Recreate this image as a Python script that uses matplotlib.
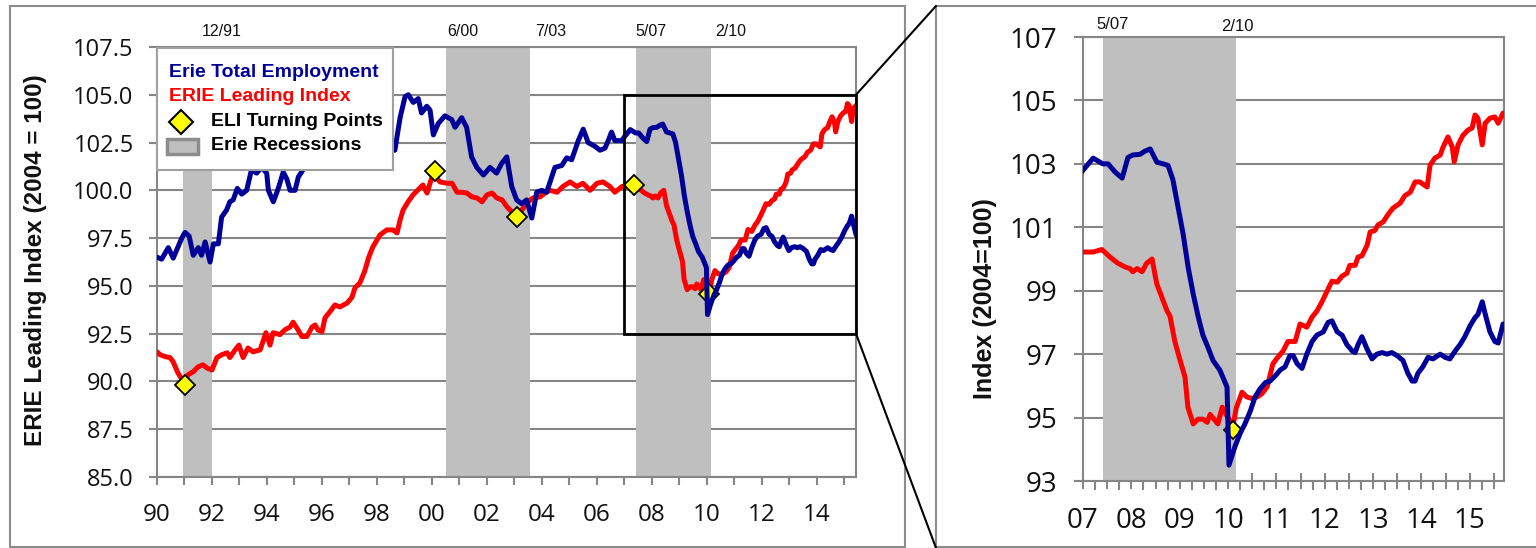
import matplotlib
matplotlib.use('Agg')
import matplotlib.pyplot as plt
from matplotlib.patches import Rectangle, ConnectionPatch
from matplotlib.ticker import MultipleLocator, FuncFormatter, FixedLocator

plt.rcParams['font.family'] = ['Liberation Sans', 'DejaVu Sans']

# ---------------- data ----------------
emp_years = [1990.00, 1990.17, 1990.41, 1990.59, 1990.90, 1991.02, 1991.17, 1991.32, 1991.50, 1991.62,
             1991.75, 1991.93, 1992.05, 1992.23, 1992.35, 1992.53, 1992.65, 1992.77, 1992.92, 1993.08,
             1993.26, 1993.44, 1993.62, 1993.81, 1993.99, 1994.05, 1994.23, 1994.41, 1994.59, 1994.72,
             1994.84, 1995.02, 1995.14, 1995.32, 1995.60, 1998.65, 1998.84, 1999.02, 1999.14, 1999.32,
             1999.50, 1999.62, 1999.81, 1999.93, 2000.05, 2000.23, 2000.47, 2000.72, 2000.84, 2001.08,
             2001.26, 2001.44, 2001.63, 2001.87, 2002.11, 2002.35, 2002.53, 2002.72, 2002.90, 2003.08,
             2003.26, 2003.44, 2003.63, 2003.81, 2003.99, 2004.17, 2004.47, 2004.72, 2004.90, 2005.08,
             2005.32, 2005.50, 2005.68, 2005.93, 2006.11, 2006.29, 2006.41, 2006.53, 2006.65, 2006.90,
             2007.00, 2007.21, 2007.41, 2007.52, 2007.66, 2007.81, 2007.93, 2008.03, 2008.18, 2008.28,
             2008.39, 2008.53, 2008.66, 2008.76, 2008.86, 2008.97, 2009.07, 2009.18, 2009.28, 2009.38,
             2009.48, 2009.59, 2009.69, 2009.83, 2009.94, 2009.98, 2010.02, 2010.14, 2010.25, 2010.35,
             2010.46, 2010.56, 2010.66, 2010.77, 2010.87, 2010.97, 2011.08, 2011.18, 2011.28, 2011.35,
             2011.43, 2011.53, 2011.63, 2011.74, 2011.84, 2011.97, 2012.07, 2012.15, 2012.26, 2012.36,
             2012.46, 2012.57, 2012.63, 2012.69, 2012.77, 2012.88, 2012.98, 2013.08, 2013.19, 2013.29,
             2013.39, 2013.50, 2013.62, 2013.72, 2013.81, 2013.87, 2013.93, 2014.03, 2014.14, 2014.24,
             2014.39, 2014.49, 2014.59, 2014.70, 2014.80, 2014.90, 2015.01, 2015.11, 2015.17, 2015.26,
             2015.32, 2015.42, 2015.52, 2015.59, 2015.69]
emp_values = [96.5, 96.4, 97.0, 96.45, 97.5, 97.8, 97.6, 96.6, 97.0, 96.6,
              97.3, 96.25, 97.2, 97.2, 98.6, 98.97, 99.4, 99.5, 100.1, 99.8,
              100.0, 101.1, 100.9, 101.2, 100.9, 100.0, 99.4, 100.1, 100.95, 100.6,
              100.0, 100.0, 100.7, 101.1, 101.8, 102.1, 103.8, 104.9, 105.0, 104.6,
              104.8, 104.05, 104.4, 104.2, 102.9, 103.5, 103.9, 103.7, 103.3, 103.8,
              103.3, 101.75, 101.2, 100.8, 101.2, 100.9, 101.4, 101.75, 100.2, 99.5,
              99.3, 99.5, 98.55, 99.9, 100.0, 99.9, 101.2, 101.3, 101.7, 101.6,
              102.6, 103.2, 102.5, 102.3, 102.1, 102.2, 102.6, 103.05, 102.6, 102.6,
              102.8, 103.18, 103.0, 103.0, 102.75, 102.55, 103.2, 103.28, 103.3, 103.4,
              103.47, 103.05, 103.0, 102.95, 102.5, 101.6, 100.8, 99.7, 98.9, 98.2,
              97.6, 97.2, 96.8, 96.5, 96.1, 95.96, 93.5, 94.07, 94.5, 94.8,
              95.2, 95.65, 95.9, 96.1, 96.15, 96.3, 96.5, 96.6, 96.95, 96.95,
              96.7, 96.55, 97.0, 97.4, 97.6, 97.7, 98.0, 98.05, 97.7, 97.6,
              97.3, 97.1, 97.05, 97.3, 97.55, 97.15, 96.85, 97.0, 97.05, 97.0,
              97.05, 96.95, 96.8, 96.4, 96.15, 96.15, 96.4, 96.6, 96.9, 96.85,
              97.0, 96.9, 96.85, 97.1, 97.3, 97.55, 97.9, 98.15, 98.25, 98.65,
              98.27, 97.7, 97.4, 97.35, 97.95]

eli_years = [1990.00, 1990.11, 1990.29, 1990.47, 1990.58, 1990.76, 1990.91, 1991.00, 1991.13, 1991.31,
             1991.49, 1991.67, 1991.82, 1992.00, 1992.18, 1992.36, 1992.55, 1992.65, 1992.84, 1992.98,
             1993.13, 1993.31, 1993.49, 1993.75, 1993.85, 1993.96, 1994.11, 1994.22, 1994.47, 1994.65,
             1994.84, 1994.95, 1995.13, 1995.27, 1995.45, 1995.64, 1995.75, 1995.85, 1996.00, 1996.11,
             1996.29, 1996.47, 1996.65, 1996.91, 1997.09, 1997.20, 1997.38, 1997.56, 1997.70, 1997.85,
             1998.11, 1998.36, 1998.58, 1998.73, 1998.84, 1998.95, 1999.13, 1999.31, 1999.49, 1999.67,
             1999.82, 2000.00, 2000.10, 2000.20, 2000.29, 2000.55, 2000.73, 2000.91, 2001.09, 2001.27,
             2001.45, 2001.64, 2001.82, 2002.00, 2002.18, 2002.36, 2002.55, 2002.73, 2002.91, 2003.09,
             2003.27, 2003.45, 2003.67, 2003.93, 2004.11, 2004.29, 2004.55, 2004.76, 2005.02, 2005.27,
             2005.49, 2005.75, 2006.00, 2006.22, 2006.47, 2006.65, 2006.91,
             2007.00, 2007.21, 2007.39, 2007.56, 2007.72, 2007.87, 2007.97, 2008.03, 2008.12, 2008.22,
             2008.32, 2008.43, 2008.49, 2008.53, 2008.63, 2008.74, 2008.80, 2008.90, 2009.01, 2009.11,
             2009.17, 2009.28, 2009.38, 2009.48, 2009.57, 2009.63, 2009.71, 2009.79, 2009.88, 2009.96,
             2010.04, 2010.10, 2010.17, 2010.29, 2010.39, 2010.50, 2010.60, 2010.70, 2010.81, 2010.93,
             2011.03, 2011.14, 2011.24, 2011.39, 2011.49, 2011.63, 2011.74, 2011.84, 2011.95, 2012.05,
             2012.15, 2012.26, 2012.36, 2012.46, 2012.52, 2012.63, 2012.69, 2012.77, 2012.88, 2012.94,
             2013.04, 2013.10, 2013.21, 2013.31, 2013.41, 2013.56, 2013.66, 2013.77, 2013.87, 2013.97,
             2014.12, 2014.18, 2014.28, 2014.39, 2014.45, 2014.55, 2014.64, 2014.68, 2014.76, 2014.86,
             2014.97, 2015.05, 2015.11, 2015.17, 2015.26, 2015.32, 2015.42, 2015.52, 2015.59, 2015.69]
eli_values = [91.55, 91.4, 91.3, 91.25, 91.05, 90.45, 90.1, 90.0, 90.35, 90.5,
              90.76, 90.87, 90.7, 90.6, 91.25, 91.4, 91.5, 91.25, 91.65, 91.9,
              91.25, 91.75, 91.55, 91.65, 92.07, 92.55, 91.9, 92.55, 92.45, 92.7,
              92.85, 93.1, 92.7, 92.35, 92.35, 92.85, 92.96, 92.7, 92.6, 93.33,
              93.65, 94.0, 93.9, 94.1, 94.4, 94.9, 95.16, 95.8, 96.5, 97.04,
              97.67, 97.93, 97.93, 97.77, 98.45, 98.97, 99.4, 99.76, 100.02, 100.28,
              99.86, 100.7, 101.0, 100.6, 100.44, 100.37, 100.37, 99.9, 99.9, 99.86,
              99.66, 99.6, 99.4, 99.76, 99.86, 99.6, 99.5, 99.13, 98.87, 98.6,
              98.97, 99.34, 99.6, 99.66, 99.86, 100.0, 99.9, 100.2, 100.44, 100.2,
              100.37, 100.0, 100.37, 100.44, 100.2, 99.9, 100.2,
              100.22, 100.22, 100.3, 100.06, 99.87, 99.75, 99.7, 99.6, 99.7, 99.6,
              99.87, 100.0, 99.5, 99.2, 98.8, 98.36, 98.2, 97.4, 96.8, 96.28,
              95.33, 94.8, 94.95, 94.95, 94.85, 95.1, 94.95, 94.8, 95.33, 95.1,
              94.9, 94.7, 95.3, 95.8, 95.65, 95.6, 95.65, 95.75, 95.97, 96.7,
              96.9, 97.1, 97.4, 97.4, 97.95, 97.85, 98.17, 98.36, 98.67, 98.99,
              99.3, 99.27, 99.46, 99.55, 99.8, 99.8, 100.06, 100.1, 100.44, 100.85,
              100.9, 101.07, 101.17, 101.4, 101.6, 101.76, 102.0, 102.1, 102.43, 102.43,
              102.27, 102.96, 103.18, 103.28, 103.53, 103.85, 103.53, 103.06, 103.6, 103.9,
              104.07, 104.13, 104.54, 104.44, 103.6, 104.28, 104.44, 104.48, 104.28, 104.6]

tp_years = [1991.02, 2000.10, 2003.10, 2007.35, 2010.07]
tp_values = [89.8, 101.0, 98.6, 100.3, 94.6]
zoom_tp_years = [2010.10]
zoom_tp_values = [94.6]

rec_start = [1990.95, 2000.50, 2007.42]
rec_end = [1992.00, 2003.55, 2010.16]
rec_labels_main = ['12/91', '6/00', '7/03', '5/07', '2/10']
rec_labels_zoom = ['5/07', '2/10']

main_yticks = [85.0, 87.5, 90.0, 92.5, 95.0, 97.5, 100.0, 102.5, 105.0, 107.5]
zoom_yticks = [93, 95, 97, 99, 101, 103, 105, 107]

series_names = ['Erie Total Employment', 'ERIE Leading Index', 'ELI Turning Points', 'Erie Recessions']
main_ylabel = 'ERIE Leading Index (2004 = 100)'
zoom_ylabel = 'Index (2004=100)'

# ---------------- layout / style ----------------
W, H = 1536, 548
BLUE = '#000099'
RED = '#ff0000'
GRID = '#868686'
BAND = '#bfbfbf'
TICKFONT = 'Open Sans'

fig = plt.figure(figsize=(W / 100, H / 100), dpi=100)


def px_axes(l, t, r, b):
    return fig.add_axes([l / W, 1 - b / H, (r - l) / W, (b - t) / H])


ax1 = px_axes(157, 47, 856, 477)
ax2 = px_axes(1083, 37, 1504, 481)

for ax in (ax1, ax2):
    ax.set_axisbelow(True)
    ax.grid(axis='y', color=GRID, lw=1.5)
    for s in ax.spines.values():
        s.set_color(GRID)
        s.set_linewidth(1.5)
    for a, b in zip(rec_start, rec_end):
        ax.axvspan(a, b, color=BAND, lw=0, zorder=1)
    ax.plot(eli_years, eli_values, color=RED, lw=3.6, solid_joinstyle='round',
            solid_capstyle='round', zorder=3)

# ---- main panel ----
ax1.plot(tp_years, tp_values, ls='none', marker='D', ms=10, mfc='#ffff00', mec='black',
         mew=1.3, zorder=4)
ax1.plot(emp_years, emp_values, color=BLUE, lw=3.6, solid_joinstyle='round',
         solid_capstyle='round', zorder=5)
ax1.set_xlim(1990.0, 2015.42)
ax1.set_ylim(85.0, 107.5)
ax1.yaxis.set_major_locator(FixedLocator(main_yticks))
ax1.yaxis.set_major_formatter(FuncFormatter(lambda v, p: f"{v:.1f}"))
ax1.xaxis.set_major_locator(MultipleLocator(1))
ax1.xaxis.set_major_formatter(FuncFormatter(
    lambda v, p: f"{int(round(v)) % 100:02d}" if int(round(v)) % 2 == 0 else ''))
ax1.tick_params(axis='y', length=5.8, width=1.5, color=GRID, pad=11, labelsize=17,
                labelcolor='#111111', labelfontfamily=TICKFONT)
ax1.tick_params(axis='x', length=5.8, width=1.5, color=GRID, pad=13, labelsize=17.5,
                labelcolor='#111111', labelfontfamily=TICKFONT)
ax1.set_ylabel(main_ylabel, fontsize=17.5, fontweight='bold', color='#111111')
ax1.yaxis.set_label_coords(-0.157, 0.505)

main_label_x = [1992.36, 2001.13, 2004.31, 2007.96, 2010.87]
for lx, lab in zip(main_label_x, rec_labels_main):
    ax1.text(lx, 1.037, lab, transform=ax1.get_xaxis_transform(), ha='center', va='center',
             fontsize=11.5, color='#111111', clip_on=False)

# legend (drawn manually, Excel style)
ax1.add_patch(Rectangle((0.0, 0.714), 0.338, 0.284, transform=ax1.transAxes, fc='white',
                        ec='#a0a0a0', lw=1.5, zorder=10, clip_on=False))
ax1.text(0.017, 0.94, series_names[0], transform=ax1.transAxes, color=BLUE, fontsize=14,
         fontweight='bold', va='center', ha='left', zorder=11)
ax1.text(0.017, 0.884, series_names[1], transform=ax1.transAxes, color=RED, fontsize=14,
         fontweight='bold', va='center', ha='left', zorder=11)
ax1.plot([0.034], [0.826], transform=ax1.transAxes, ls='none', marker='D', ms=12,
         mfc='#ffff00', mec='black', mew=1.5, zorder=12, clip_on=False)
ax1.text(0.077, 0.826, series_names[2], transform=ax1.transAxes, color='black', fontsize=14,
         fontweight='bold', va='center', ha='left', zorder=11)
ax1.add_patch(Rectangle((0.014, 0.752), 0.044, 0.033, transform=ax1.transAxes, fc=BAND,
                        ec='#8c8c8c', lw=2.5, zorder=11, clip_on=False))
ax1.text(0.077, 0.77, series_names[3], transform=ax1.transAxes, color='black', fontsize=14,
         fontweight='bold', va='center', ha='left', zorder=11)

# zoom box
box_x = (2007.0, 2015.42)
box_y = (92.5, 105.0)
ax1.add_patch(Rectangle((box_x[0], box_y[0]), box_x[1] - box_x[0], box_y[1] - box_y[0],
                        fill=False, ec='black', lw=2, zorder=8, clip_on=False))

# ---- zoom panel ----
ax2.plot(zoom_tp_years, zoom_tp_values, ls='none', marker='D', ms=9.5, mfc='#ffff00',
         mec='black', mew=1.3, zorder=4)
ax2.plot(emp_years, emp_values, color=BLUE, lw=3.6, solid_joinstyle='round',
         solid_capstyle='round', zorder=5)
ax2.set_xlim(2007.0, 2015.71)
ax2.set_ylim(93, 107)
ax2.yaxis.set_major_locator(FixedLocator(zoom_yticks))
ax2.yaxis.set_major_formatter(FuncFormatter(lambda v, p: f"{int(round(v))}"))
ax2.xaxis.set_major_locator(MultipleLocator(0.5))
ax2.xaxis.set_minor_locator(MultipleLocator(0.25))
ax2.xaxis.set_major_formatter(FuncFormatter(
    lambda v, p: f"{int(round(v)) % 100:02d}" if abs(v - round(v)) < 1e-6 else ''))
ax2.tick_params(axis='y', length=6.5, width=1.5, color=GRID, pad=12, labelsize=20,
                labelcolor='#111111', labelfontfamily=TICKFONT)
ax2.tick_params(axis='x', which='major', direction='inout', length=12.2, width=1.5, color=GRID,
                pad=12.5, labelsize=20, labelcolor='#111111', labelfontfamily=TICKFONT)
ax2.tick_params(axis='x', which='minor', direction='out', length=6.5, width=1.5, color=GRID)
ax2.set_ylabel(zoom_ylabel, fontsize=18, fontweight='bold', color='#111111')
ax2.yaxis.set_label_coords(-0.204, 0.412)

zoom_label_x = [2007.62, 2010.20]
zoom_label_y = [1.029, 1.023]
for lx, ly, lab in zip(zoom_label_x, zoom_label_y, rec_labels_zoom):
    ax2.text(lx, ly, lab, transform=ax2.get_xaxis_transform(), ha='center', va='center',
             fontsize=12, color='#111111', clip_on=False)

# ---- frames and connectors ----
fig.add_artist(Rectangle((10 / W, 1 / H), 895 / W, 541 / H, transform=fig.transFigure,
                         fill=False, ec='#8c8c8c', lw=1.5))
fig.add_artist(Rectangle((936 / W, 1 / H), 700 / W, 541 / H, transform=fig.transFigure,
                         fill=False, ec='#8c8c8c', lw=1.5))
for yv, fy in ((box_y[1], 1 - 6 / H), (box_y[0], 0.0)):
    fig.add_artist(ConnectionPatch(xyA=(box_x[1], yv), coordsA=ax1.transData,
                                   xyB=(936 / W, fy), coordsB=fig.transFigure,
                                   color='black', lw=1.5))

fig.savefig('out.png', dpi=100)
